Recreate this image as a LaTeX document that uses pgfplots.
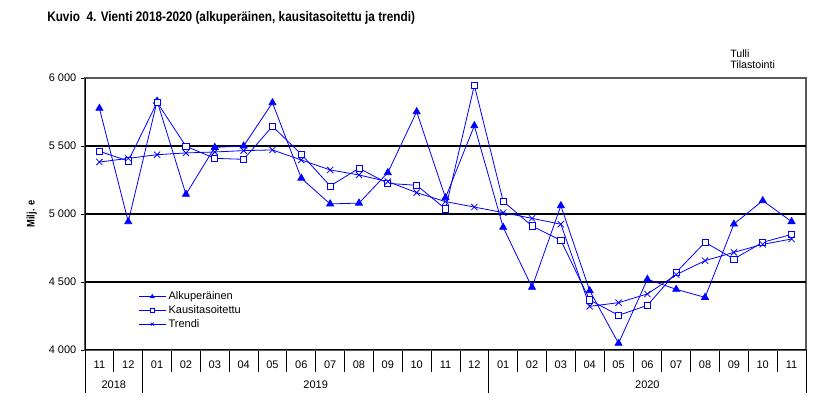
\documentclass[border=0pt]{standalone}
\usepackage{fontspec}
\setmainfont{Liberation Sans}
\newfontfamily\narrowfont[FakeStretch=0.85]{Liberation Sans}
\usepackage{pgfplots}
\usepackage{pgfplotstable}
\pgfplotsset{compat=1.18}

% x: 0 = 11/2018 ... 24 = 11/2020
\pgfplotstableread{
x a k t
0 5777 5461 5382
1 4943 5390 5409
2 5830 5821 5436
3 5145 5498 5449
4 5490 5409 5456
5 5500 5402 5466
6 5818 5645 5471
7 5263 5439 5397
8 5074 5206 5324
9 5080 5336 5287
10 5304 5225 5238
11 5752 5211 5157
12 5120 5037 5091
13 5649 5946 5051
14 4902 5093 5010
15 4461 4912 4968
16 5061 4806 4925
17 4436 4368 4321
18 4049 4255 4348
19 4520 4328 4412
20 4446 4571 4554
21 4387 4792 4657
22 4926 4669 4718
23 5098 4792 4777
24 4944 4850 4816
}\vienti

\begin{document}
\begin{tikzpicture}
\path[use as bounding box] (0,0) rectangle (623.25pt,312pt);
\node[anchor=west, font=\narrowfont\bfseries\fontsize{10.4pt}{12pt}\selectfont, inner sep=0pt]
  at (35.25pt,298.5pt) {Kuvio\ \ 4. Vienti 2018-2020 (alkuperäinen, kausitasoitettu ja trendi)};
\node[anchor=north west, align=left, font=\fontsize{8pt}{8.6pt}\selectfont, inner sep=0pt]
  at (547.5pt,275pt) {Tulli\\Tilastointi};
\begin{axis}[
  at={(63.75pt,49.5pt)}, anchor=south west,
  scale only axis, width=540.75pt, height=204pt,
  xmin=-0.5, xmax=24.5, ymin=4000, ymax=6000,
  clip=false,
  axis line style={gray!70!black, line width=0.9pt},
  font=\fontsize{8.25pt}{10pt}\selectfont,
  /pgf/number format/assume math mode=true,
  ytick={4000,4500,5000,5500,6000},
  yticklabels={{4 000},{4 500},{5 000},{5 500},{6 000}},
  ytick pos=left, xtick pos=bottom, tick align=outside,
  major tick length=3pt,
  ytick style={black, line width=0.6pt},
  extra y ticks={4500,5000,5500}, extra y tick labels={},
  extra y tick style={grid=major, major tick length=0pt},
  major grid style={black, line width=0.9pt},
  xtick={0,...,24},
  xticklabels={11,12,01,02,03,04,05,06,07,08,09,10,11,12,01,02,03,04,05,06,07,08,09,10,11},
  x tick style={draw=none},
  xticklabel style={anchor=center, yshift=-8pt},
  minor xtick={-0.5,0.5,...,24.5},
  minor x tick style={black, line width=0.6pt, draw=black},
  minor tick length=16.25pt,
  ylabel={\narrowfont\bfseries Milj. e},
  ylabel style={at={([xshift=-40pt]axis description cs:0,0.5)}, anchor=center, rotate=0},
  legend style={at={(rel axis cs:0.074,0.225)}, anchor=north west, draw=none, fill=none,
    font=\fontsize{8.25pt}{10pt}\selectfont, row sep=-1.2pt, inner sep=0pt},
  legend cell align=left,
  legend image code/.code={\draw[#1, mark size=1.6pt, mark repeat=2, mark phase=2]
    plot coordinates {(0cm,0cm) (0.35cm,0cm) (0.7cm,0cm)};},
  every axis plot/.append style={blue, line width=0.6pt},
]
\addplot[mark=triangle*, mark size=3pt, mark options={fill=blue, solid}] table[x=x, y=a] {\vienti};
\addlegendentry{Alkuperäinen}
\addplot[mark=square*, mark size=2.3pt, mark options={fill=white, solid}] table[x=x, y=k] {\vienti};
\addlegendentry{Kausitasoitettu}
\addplot[mark=x, mark size=3.3pt, mark options={solid}] table[x=x, y=t] {\vienti};
\addlegendentry{Trendi}
% black left and bottom axis lines, year separators and labels
\draw[black, line width=0.75pt] (rel axis cs:0,1) -- (rel axis cs:0,0) -- (rel axis cs:1,0);
\draw[black, line width=0.6pt] (axis cs:-0.5,4000) -- ([yshift=-32.25pt]axis cs:-0.5,4000);
\draw[black, line width=0.6pt] (axis cs:1.5,4000) -- ([yshift=-32.25pt]axis cs:1.5,4000);
\draw[black, line width=0.6pt] (axis cs:13.5,4000) -- ([yshift=-32.25pt]axis cs:13.5,4000);
\draw[black, line width=0.6pt] (axis cs:24.5,4000) -- ([yshift=-32.25pt]axis cs:24.5,4000);
\node at ([yshift=-26.25pt]axis cs:0.5,4000) {2018};
\node at ([yshift=-26.25pt]axis cs:7.5,4000) {2019};
\node at ([yshift=-26.25pt]axis cs:19,4000) {2020};
\end{axis}
\end{tikzpicture}
\end{document}
